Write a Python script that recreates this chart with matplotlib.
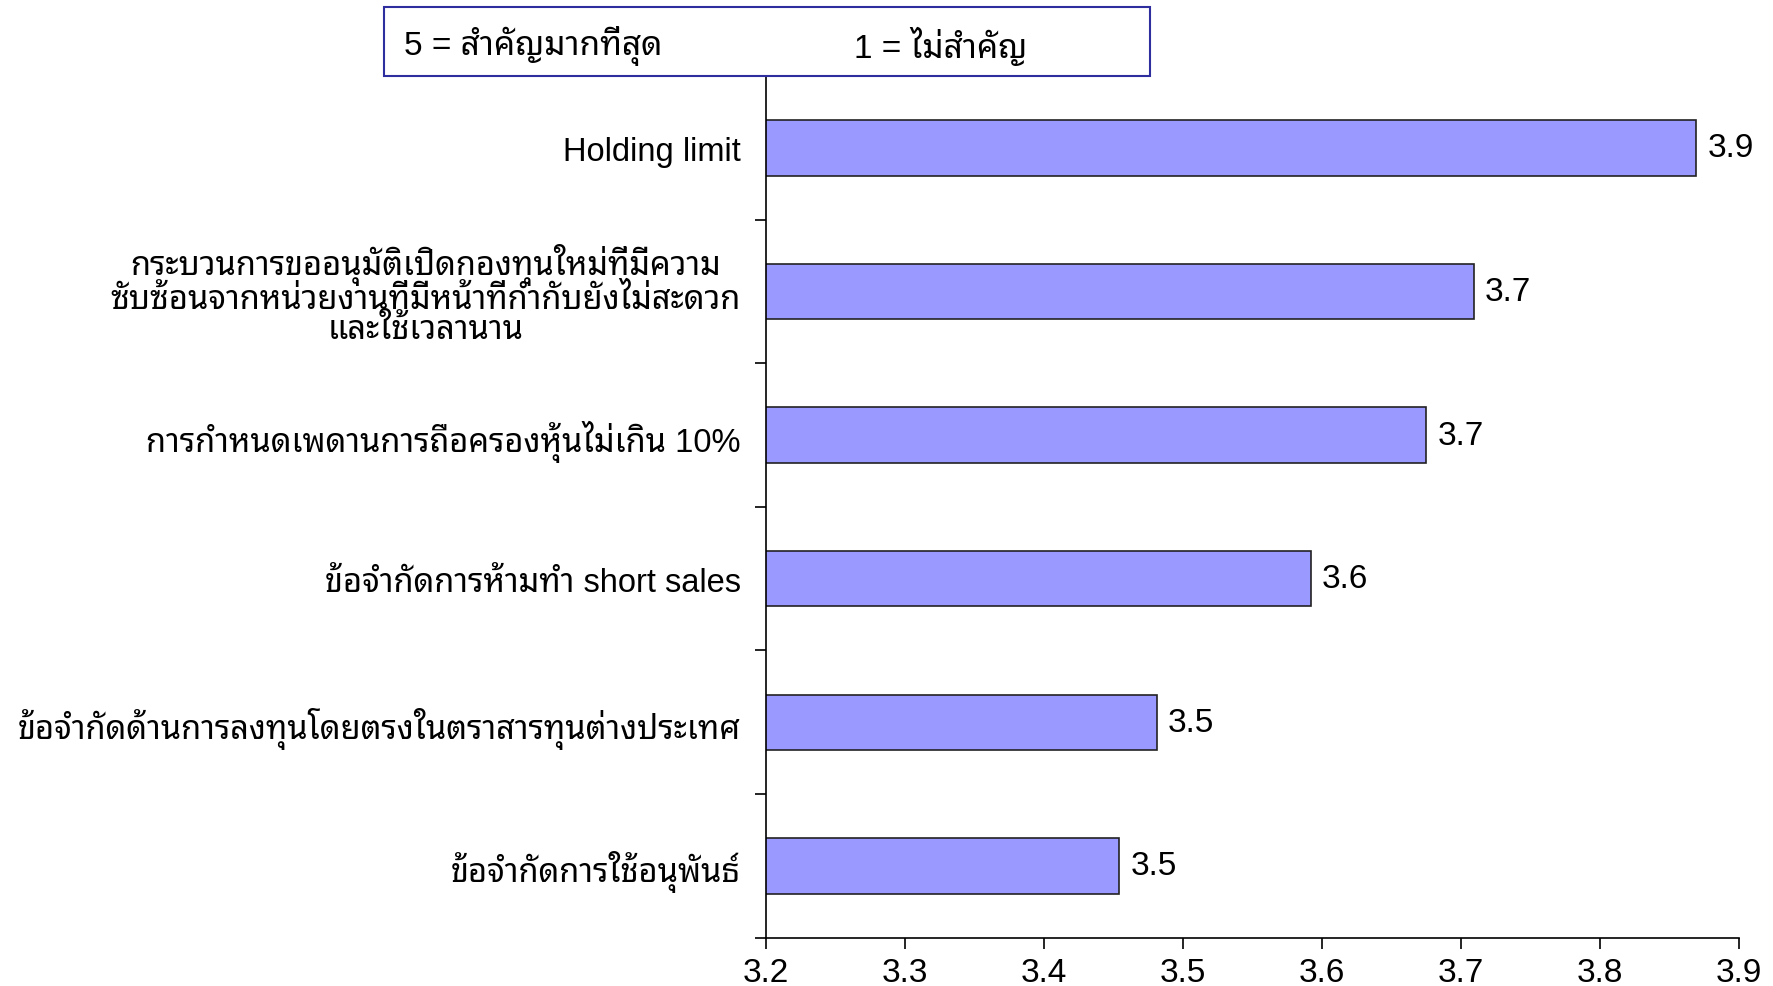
import matplotlib
matplotlib.use("Agg")
import matplotlib.pyplot as plt
from matplotlib.patches import Rectangle

categories = [
    "Holding limit",
    "กระบวนการขออนุมัติเปิดกองทุนใหม่ที่มีความ\nซับซ้อนจากหน่วยงานที่มีหน้าที่กำกับยังไม่สะดวก\nและใช้เวลานาน",
    "การกำหนดเพดานการถือครองหุ้นไม่เกิน 10%",
    "ข้อจำกัดการห้ามทำ short sales",
    "ข้อจำกัดด้านการลงทุนโดยตรงในตราสารทุนต่างประเทศ",
    "ข้อจำกัดการใช้อนุพันธ์",
]
values = [3.869, 3.709, 3.675, 3.592, 3.481, 3.454]
xticks = [3.2, 3.3, 3.4, 3.5, 3.6, 3.7, 3.8, 3.9]
header_left = "5 = สำคัญมากที่สุด"
header_right = "1 = ไม่สำคัญ"

LAB_FONT = ["Liberation Sans", "Noto Sans Thai Looped"]
NUM_FONT = ["Liberation Sans", "DejaVu Sans"]
HEAD_FONT = ["Liberation Sans", "Noto Sans Thai Looped"]

fig = plt.figure(figsize=(17.73, 9.87), dpi=100)
ax = fig.add_axes([0.432, 0.049, 0.549, 0.873])

y = list(range(len(categories)))
ax.barh(y, values, height=0.386, color="#9999FF", edgecolor="#222222", linewidth=1.2)

ax.set_xlim(3.2, 3.9)
ax.set_ylim(len(categories) - 0.5, -0.5)

ax.set_xticks(xticks)
ax.set_xticklabels([f"{t:.1f}" for t in xticks], family=NUM_FONT, fontsize=24)
ax.tick_params(axis="x", direction="out", length=8, width=1.2, pad=6)

ax.set_yticks(y)
ax.set_yticklabels(categories, family=LAB_FONT, fontsize=23.5)
ax.tick_params(axis="y", which="major", length=0, pad=18)
for lab in ax.get_yticklabels():
    lab.set_multialignment("center")
    lab.set_linespacing(0.95)
ax.set_yticks([i - 0.5 for i in range(len(categories) + 1)], minor=True)
ax.tick_params(axis="y", which="minor", direction="out", length=8, width=1.2)

for s in ["top", "right"]:
    ax.spines[s].set_visible(False)
for s in ["left", "bottom"]:
    ax.spines[s].set_linewidth(1.2)
    ax.spines[s].set_color("black")

for yi, v in zip(y, values):
    ax.annotate(f"{v:.1f}", xy=(v, yi), xytext=(8, 0), textcoords="offset points",
                va="center", ha="left", family=NUM_FONT, fontsize=24, annotation_clip=False)

# header box
box = Rectangle((384 / 1773, 1 - 77 / 987), (1150 - 384) / 1773, 69 / 987,
                transform=fig.transFigure, facecolor="white", edgecolor="#2E2E9E",
                linewidth=1.5, zorder=5)
fig.patches.append(box)
fig.text(404 / 1773, 1 - 46 / 987, header_left, family=HEAD_FONT, fontsize=24,
         va="center", ha="left", zorder=6)
fig.text(854 / 1773, 1 - 46 / 987, header_right, family=HEAD_FONT, fontsize=24,
         va="center", ha="left", zorder=6)

fig.savefig("out.png", dpi=100, facecolor="white")
